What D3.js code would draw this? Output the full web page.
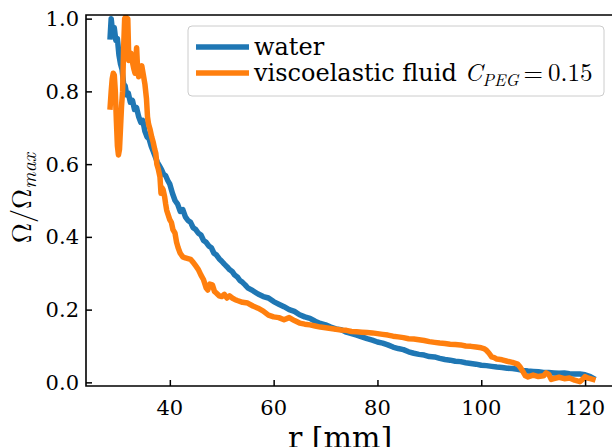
<!DOCTYPE html>
<html>
<head>
<meta charset="utf-8">
<script src="https://cdn.jsdelivr.net/npm/d3@7"></script>
<style>
  body { margin: 0; background: #fff; }
</style>
</head>
<body>
<div id="chart"></div>
<script>
// Size and margins (axes box runs slightly past the right edge, like the reference)
const width = 612, height = 447;
const margin = { top: 15, left: 86, bottom: 61 };
const plotRight = 617;
const plotBottom = height - margin.bottom;
const textFont = "'DejaVu Serif'";
const mathFont = "'Latin Modern Roman'";

// Data: radius r [mm] and normalised angular velocity
const waterR = [28.5, 28.7, 29.0, 29.3, 29.6, 29.9, 30.2, 30.5, 30.8, 31.1, 31.4, 31.7, 32.0, 32.4, 32.8, 33.2, 33.6, 34.0, 34.4, 34.8,
  35.2, 35.6, 36.0, 36.4, 36.8, 37.2, 37.6, 38.0, 38.4, 38.8, 39.2, 39.6, 40.0, 40.5, 41.0, 41.5, 42.0, 42.5, 43.0, 43.5,
  44.0, 44.5, 45.0, 45.5, 46.0, 46.5, 47.0, 47.5, 48.0, 48.5, 49.0, 49.5, 50.0, 50.5, 51.0, 51.5, 52.0, 52.5, 53.0, 53.5,
  54.0, 54.5, 55.0, 56, 57, 58, 59, 60, 61, 62, 63, 64, 65, 66, 67, 68, 69, 70, 71, 72, 73, 74, 75, 76, 77, 78, 79, 80,
  81, 82, 83, 84, 85, 86, 87, 88, 89, 90, 91, 92, 93, 94, 95, 96, 97, 98, 99, 100, 101, 102, 103, 104, 105, 106, 107, 108,
  109, 110, 111, 112, 113, 114, 115, 116, 117, 118, 119, 120, 121, 121.5];
const waterOmega = [0.95, 1.00, 0.96, 0.975, 0.94, 0.945, 0.90, 0.875, 0.86, 0.82, 0.815, 0.79, 0.795, 0.77, 0.775, 0.75, 0.755, 0.73, 0.715, 0.72,
  0.69, 0.675, 0.67, 0.65, 0.635, 0.62, 0.605, 0.595, 0.585, 0.572, 0.568, 0.555, 0.545, 0.52, 0.50, 0.49, 0.47, 0.475, 0.455, 0.445,
  0.44, 0.425, 0.42, 0.41, 0.405, 0.39, 0.385, 0.375, 0.37, 0.355, 0.35, 0.34, 0.333, 0.325, 0.318, 0.31, 0.305, 0.295, 0.29, 0.28,
  0.275, 0.268, 0.26, 0.252, 0.243, 0.236, 0.232, 0.222, 0.215, 0.208, 0.2, 0.195, 0.186, 0.18, 0.176, 0.168, 0.162, 0.158, 0.152, 0.147, 0.145, 0.138, 0.134, 0.13, 0.125, 0.12, 0.116, 0.111,
  0.108, 0.103, 0.097, 0.093, 0.09, 0.084, 0.08, 0.077, 0.075, 0.071, 0.07, 0.066, 0.063, 0.061, 0.058, 0.057, 0.054, 0.052, 0.05, 0.047, 0.046, 0.044, 0.042, 0.041, 0.039, 0.038, 0.036, 0.033,
  0.031, 0.03, 0.029, 0.027, 0.027, 0.026, 0.025, 0.026, 0.024, 0.023, 0.023, 0.021, 0.016, 0.012];

const fluidR = [28.5, 28.7, 28.9, 29.1, 29.3, 29.5, 29.7, 29.9, 30.1, 30.3, 30.5, 30.7, 30.9, 31.1, 31.3, 31.5, 31.7, 31.9, 32.1, 32.3,
  32.5, 32.8, 33.1, 33.3, 33.5, 33.6, 33.8, 34.0, 34.3, 34.6, 34.9, 35.2, 35.5, 35.7, 35.9, 36.2, 36.5, 36.8, 37.1, 37.3,
  37.5, 37.8, 38.1, 38.3, 38.5, 38.7, 39.0, 39.2, 39.4, 39.7, 40.0, 40.3, 40.6, 41.0, 41.3, 41.6, 42.0, 42.5, 43.0, 43.5,
  44.0, 44.5, 45.0, 45.5, 46.0, 46.5, 47.0, 47.3, 47.7, 48.2, 48.6, 49.0, 49.5, 50.0, 50.5, 51.0, 51.5, 52.0, 52.5, 53.0,
  54, 55, 56, 57, 58, 59, 60, 61, 62, 63, 64, 65, 66, 67, 68, 69, 70, 71, 72, 73, 74, 75, 76, 77, 78, 79, 80,
  81, 82, 83, 84, 85, 86, 87, 88, 89, 90, 91, 92, 93, 94, 95, 96, 97, 98, 99, 100, 100.5, 101, 101.5, 102, 102.5, 103,
  104, 105, 106, 107, 107.5, 108, 108.5, 109, 110, 111, 112, 112.5, 113, 113.5, 114, 115, 116, 117, 118, 119, 119.5, 120, 120.5, 121, 121.5];
const fluidOmega = [0.757, 0.80, 0.835, 0.85, 0.845, 0.80, 0.72, 0.65, 0.625, 0.64, 0.70, 0.76, 0.80, 0.92, 1.0, 1.005, 0.99, 1.0, 0.885, 0.89,
  0.905, 0.88, 0.86, 0.85, 0.90, 0.92, 0.86, 0.84, 0.855, 0.87, 0.845, 0.82, 0.78, 0.73, 0.71, 0.695, 0.675, 0.66, 0.64, 0.63,
  0.60, 0.585, 0.565, 0.52, 0.535, 0.53, 0.51, 0.49, 0.473, 0.46, 0.447, 0.44, 0.42, 0.41, 0.385, 0.37, 0.355, 0.345, 0.342, 0.34,
  0.338, 0.33, 0.32, 0.31, 0.295, 0.282, 0.26, 0.254, 0.27, 0.268, 0.25, 0.245, 0.238, 0.236, 0.242, 0.232, 0.238, 0.232, 0.228, 0.225,
  0.22, 0.218, 0.21, 0.204, 0.196, 0.185, 0.18, 0.178, 0.172, 0.178, 0.17, 0.163, 0.16, 0.158, 0.155, 0.152, 0.15, 0.148, 0.146, 0.144, 0.143, 0.14, 0.139, 0.138, 0.137, 0.136, 0.134,
  0.132, 0.13, 0.127, 0.125, 0.123, 0.12, 0.119, 0.117, 0.115, 0.112, 0.11, 0.108, 0.107, 0.105, 0.104, 0.103, 0.1, 0.099, 0.097, 0.095, 0.093, 0.088, 0.08, 0.07, 0.068, 0.064,
  0.062, 0.058, 0.055, 0.05, 0.042, 0.03, 0.018, 0.015, 0.02, 0.016, 0.018, 0.026, 0.022, 0.008, 0.01, 0.014, 0.01, 0.012, 0.006, 0.002, 0.008, 0.016, 0.012, 0.01, 0.008];

const xTicks = [40, 60, 80, 100, 120];
const yTicks = [0.0, 0.2, 0.4, 0.6, 0.8, 1.0];

const series = [
  { name: "water", r: waterR, v: waterOmega, color: "#1f77b4" },
  { name: "fluid", r: fluidR, v: fluidOmega, color: "#ff7f0e" }
];

const svg = d3.select("#chart")
  .append("svg")
  .attr("width", width)
  .attr("height", height);

// Scales
const x = d3.scaleLinear()
  .domain([23.85, 126.15])
  .range([margin.left, plotRight]);

const y = d3.scaleLinear()
  .domain([-0.01, 1.01])
  .range([plotBottom, margin.top]);

svg.append("clipPath")
  .attr("id", "plot-clip")
  .append("rect")
  .attr("x", margin.left)
  .attr("y", margin.top)
  .attr("width", plotRight - margin.left)
  .attr("height", plotBottom - margin.top);

// Lines
const line = d3.line()
  .x(d => x(d[0]))
  .y(d => y(d[1]));

svg.selectAll(".series")
  .data(series)
  .enter()
  .append("path")
  .attr("class", "series")
  .attr("clip-path", "url(#plot-clip)")
  .attr("d", s => line(d3.zip(s.r, s.v)))
  .attr("fill", "none")
  .attr("stroke", s => s.color)
  .attr("stroke-width", 5.5)
  .attr("stroke-linejoin", "round")
  .attr("stroke-linecap", "square");

// Axes, ticks pointing inwards
const xAxis = d3.axisTop(x).tickValues(xTicks).tickSize(6).tickFormat("");
const yAxis = d3.axisRight(y).tickValues(yTicks).tickSize(6).tickFormat("");

svg.append("g")
  .attr("transform", `translate(0, ${plotBottom})`)
  .call(xAxis)
  .call(g => g.select(".domain").remove())
  .selectAll("line").attr("stroke", "#000").attr("stroke-width", 1.5);

svg.append("g")
  .attr("transform", `translate(${margin.left}, 0)`)
  .call(yAxis)
  .call(g => g.select(".domain").remove())
  .selectAll("line").attr("stroke", "#000").attr("stroke-width", 1.5);

// Tick labels
svg.selectAll(".x-label")
  .data(xTicks)
  .enter()
  .append("text")
  .attr("class", "x-label")
  .attr("x", d => x(d))
  .attr("y", plotBottom + 29)
  .attr("text-anchor", "middle")
  .attr("font-family", textFont)
  .style("font-size", "21px")
  .text(d => d);

svg.selectAll(".y-label")
  .data(yTicks)
  .enter()
  .append("text")
  .attr("class", "y-label")
  .attr("x", margin.left - 7)
  .attr("y", d => y(d) + 7.5)
  .attr("text-anchor", "end")
  .attr("font-family", textFont)
  .style("font-size", "21px")
  .text(d => d.toFixed(1));

// Spines (left, bottom, top)
svg.append("path")
  .attr("d", `M${plotRight},${margin.top}H${margin.left}V${plotBottom}H${plotRight}`)
  .attr("fill", "none")
  .attr("stroke", "#000")
  .attr("stroke-width", 1.6);

// Axis titles
svg.append("text")
  .attr("x", 340)
  .attr("y", plotBottom + 62)
  .attr("text-anchor", "middle")
  .attr("font-family", textFont)
  .style("font-size", "30px")
  .text("r [mm]");

const yTitle = svg.append("text")
  .attr("transform", "translate(31, 198) rotate(-90)")
  .attr("text-anchor", "middle")
  .attr("font-family", mathFont)
  .style("font-size", "28px");
yTitle.append("tspan").text("Ω/Ω");
yTitle.append("tspan")
  .attr("dy", 5)
  .style("font-size", "20px")
  .style("font-style", "italic")
  .text("max");

// Legend
const legend = svg.append("g").attr("transform", "translate(188, 26)");

legend.append("rect")
  .attr("x", 0)
  .attr("y", 0)
  .attr("width", 416)
  .attr("height", 70)
  .attr("rx", 4)
  .attr("fill", "#fff")
  .attr("fill-opacity", 0.8)
  .attr("stroke", "#cccccc")
  .attr("stroke-width", 1);

series.forEach((s, i) => {
  legend.append("line")
    .attr("x1", 8)
    .attr("x2", 61)
    .attr("y1", 21 + i * 26)
    .attr("y2", 21 + i * 26)
    .attr("stroke", s.color)
    .attr("stroke-width", 5.5);
});

legend.append("text")
  .attr("x", 66)
  .attr("y", 29)
  .attr("font-family", textFont)
  .style("font-size", "24px")
  .text("water");

const fluidLabel = legend.append("text")
  .attr("x", 66)
  .attr("y", 55)
  .attr("font-family", textFont)
  .style("font-size", "24px");
fluidLabel.append("tspan").text("viscoelastic fluid ");
fluidLabel.append("tspan")
  .attr("font-family", mathFont)
  .style("font-size", "25px")
  .style("font-style", "italic")
  .text("C");
fluidLabel.append("tspan")
  .attr("dy", 5)
  .attr("font-family", mathFont)
  .style("font-size", "17px")
  .style("font-style", "italic")
  .text("PEG");
fluidLabel.append("tspan")
  .attr("dy", -5)
  .attr("font-family", mathFont)
  .style("font-size", "25px")
  .text("\u2009=\u20090.15");
</script>
</body>
</html>
